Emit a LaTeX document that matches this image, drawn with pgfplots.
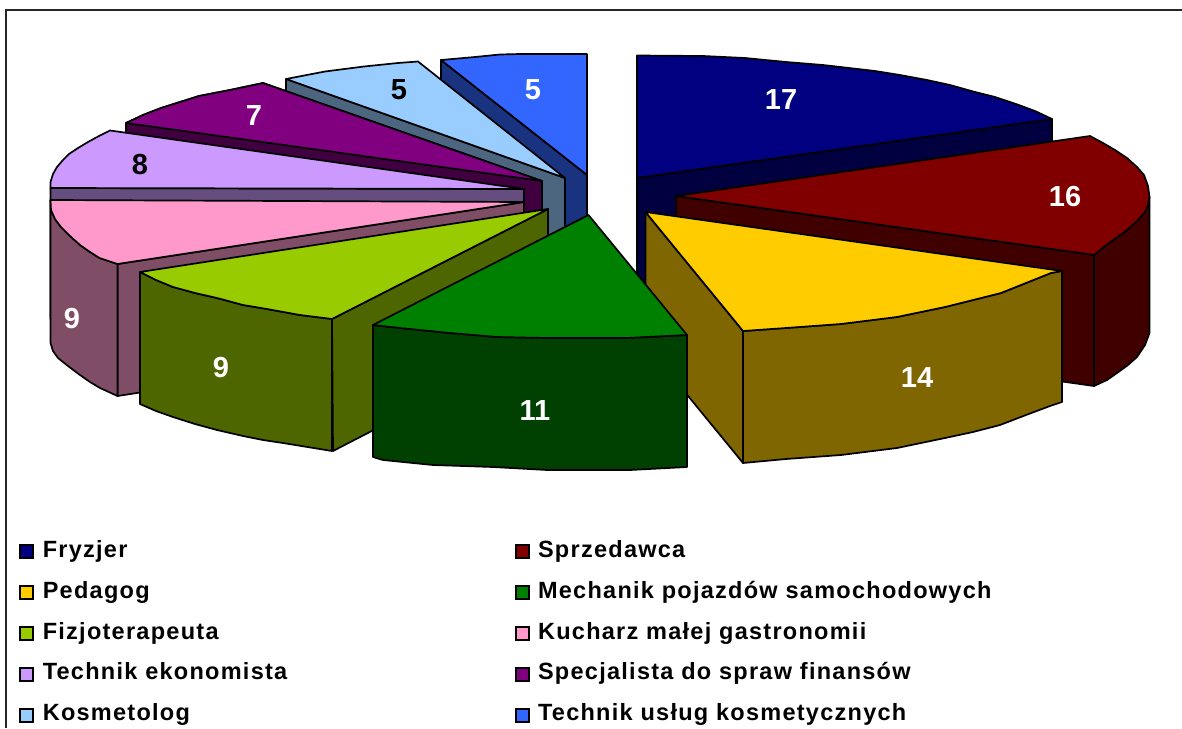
\documentclass[border=0pt]{standalone}
\usepackage{fontspec}
\setmainfont{Liberation Sans}
\newfontfamily\legfont[LetterSpace=5.4]{Liberation Sans}
\usepackage{pgfplots}
\pgfplotsset{compat=1.18}
\definecolor{c1}{HTML}{000080}\definecolor{d1}{HTML}{000040}
\definecolor{c2}{HTML}{800000}\definecolor{d2}{HTML}{400000}
\definecolor{c3}{HTML}{FFCC00}\definecolor{d3}{HTML}{806600}
\definecolor{c4}{HTML}{008000}\definecolor{d4}{HTML}{004000}
\definecolor{c5}{HTML}{99CC00}\definecolor{d5}{HTML}{4D6600}
\definecolor{c6}{HTML}{FF99CC}\definecolor{d6}{HTML}{804D66}
\definecolor{c7}{HTML}{CC99FF}\definecolor{d7}{HTML}{664D80}
\definecolor{c8}{HTML}{800080}\definecolor{d8}{HTML}{400040}
\definecolor{c9}{HTML}{99CCFF}\definecolor{d9}{HTML}{4D6680}
\definecolor{c10}{HTML}{3366FF}\definecolor{d10}{HTML}{1A3380}
\pgfplotsset{
  face/.style={fill=#1,draw=black,line width=1.7pt,line join=round,forget plot},
  sq/.style={legend image code/.code={\draw[fill=#1,draw=black,line width=1.8pt] (0pt,-6.5pt) rectangle (13pt,6.5pt);}},
}
\begin{document}
\begin{tikzpicture}
\useasboundingbox (0,0) rectangle (1182pt,728pt);
\begin{axis}[
  at={(0,0)},anchor=south west,
  scale only axis,width=1182pt,height=728pt,
  xmin=0,xmax=1182,ymin=0,ymax=728,y dir=reverse,
  hide axis,clip=false,
  legend columns=2,
  legend cell align=left,
  legend style={
    draw=none,fill=none,inner sep=0pt,outer sep=0pt,
    at={(0.01607,0.2566)},anchor=north west,
    row sep=19.9pt,
    font=\legfont\bfseries\fontsize{23.5}{26}\selectfont,
    nodes={text height=16pt,text depth=5pt,inner sep=0pt,outer sep=0pt},
    /tikz/column 1/.style={column sep=9pt},
    /tikz/column 2/.style={column sep=228pt},
    /tikz/column 3/.style={column sep=8pt},
  },
]
% frame
\addplot[color=black!85,line width=2pt,forget plot] coordinates {(6,728) (6,10) (1182,10)};

% Fryzjer 17
\addplot[face=d1] coordinates {(637,178) (1052,119) (1052,230) (637,290)} -- cycle;
\addplot[face=c1] coordinates {(637,55.5) (703,56) (745,58) (786,62) (823,65) (875,71) (900,75) (927,80) (950,85) (975,92) (995,97) (1016,104) (1035,111) (1052,119) (637,178)} -- cycle;

% Technik uslug kosmetycznych 5
\addplot[face=d10] coordinates {(441,60) (587,175) (587,306) (441,190)} -- cycle;
\addplot[face=c10] coordinates {(441,60) (475,57) (500,54.5) (520,54) (587,54) (587,175)} -- cycle;

% Kosmetolog 5
\addplot[face=d9] coordinates {(286,79) (565,178) (565,309) (286,210)} -- cycle;
\addplot[face=c9] coordinates {(286,79) (325,71.5) (364,66.5) (398,63) (418,61.5) (565,178)} -- cycle;

% Specjalista 7
\addplot[face=d8] coordinates {(126,123) (143,115) (161,108) (180,102) (199,96) (230,90) (263,83) (542,181) (542,312) (126,254)} -- cycle;
\addplot[face=c8] coordinates {(126,123) (143,115) (161,108) (180,102) (199,96) (230,90) (263,83) (542,181)} -- cycle;

% Technik ekonomista 8
\addplot[face=d7] coordinates {(50.5,188) (524,189) (524,320) (50.5,319)} -- cycle;
\addplot[face=c7] coordinates {(50.5,188) (50.5,182) (53,174) (57,167) (63,160) (69,154) (78,148) (88,142) (99,136) (110,130.5) (524,189)} -- cycle;

% Kucharz 9
\addplot[face=d6] coordinates {(117.5,264) (524,202) (524,333) (117.5,396)} -- cycle;
\addplot[face=d6] coordinates {(50.5,200) (51,210) (55,219) (61,227) (70,236) (80,245) (90,252) (99.5,258) (117.5,264) (117.5,396) (100,388) (90,382) (80,375) (68,366) (58,358) (53,351) (50.5,343)} -- cycle;
\addplot[face=c6] coordinates {(50.5,200) (524,202) (117.5,264) (99.5,258) (90,252) (80,245) (70,236) (61,227) (55,219) (51,210)} -- cycle;

% Fizjoterapeuta 9
\addplot[face=d5] coordinates {(332,319) (548,209) (548,340) (333,451)} -- cycle;
\addplot[face=d5] coordinates {(140,272) (156,280) (173,287) (195,293) (217,298) (243,305) (267,309) (300,315) (332,319) (332,451) (283,443) (263,440) (243,436) (217,430) (195,424) (173,417) (156,411) (140,404)} -- cycle;
\addplot[face=c5] coordinates {(140,272) (548,209) (332,319) (300,315) (267,309) (243,305) (217,298) (195,293) (173,287) (156,280)} -- cycle;

% Sprzedawca 16
\addplot[face=d2] coordinates {(676,196) (1094,255) (1094,386) (676,327)} -- cycle;
\addplot[face=d2] coordinates {(1094,255) (1105,246) (1116,238) (1127,230) (1137,221) (1145,212) (1148,205) (1149.5,197) (1149.5,333) (1145,345) (1137,357) (1128,365) (1117,373) (1107,380) (1094,386)} -- cycle;
\addplot[face=c2] coordinates {(676,196) (1090,136) (1103,143) (1115,150) (1127,158) (1137,167) (1144,175) (1148,186) (1149.5,197) (1148,205) (1145,212) (1137,221) (1127,230) (1116,238) (1105,246) (1094,255)} -- cycle;

% Pedagog 14
\addplot[face=d3] coordinates {(645.5,212) (743,331) (743,463) (645.5,344)} -- cycle;
\addplot[face=d3] coordinates {(743,331) (786,328) (841,324) (897,317) (945,307) (973,300) (1001,293) (1026,283) (1051,273) (1062,271) (1062,402) (1050,406) (1026,415) (1000,425) (973,432) (945,438) (897,448) (841,455) (786,459) (743,463)} -- cycle;
\addplot[face=c3] coordinates {(645.5,212) (1062,271) (1051,273) (1026,283) (1001,293) (973,300) (945,307) (897,317) (841,324) (786,328) (743,331)} -- cycle;

% Mechanik 11
\addplot[face=d4] coordinates {(373,325) (400,328) (450,333) (497,337) (547,338) (627,338) (687,335) (687,467) (630,470) (547,470) (493,467) (433,465) (383,460) (373,457)} -- cycle;
\addplot[face=c4] coordinates {(588.5,215) (687,335) (627,338) (547,338) (497,337) (450,333) (400,328) (373,325)} -- cycle;

% value labels
\node[white,font=\bfseries\fontsize{29}{30}\selectfont] at (axis cs:781,100) {17};
\node[white,font=\bfseries\fontsize{29}{30}\selectfont] at (axis cs:1065,197) {16};
\node[white,font=\bfseries\fontsize{29}{30}\selectfont] at (axis cs:917,378) {14};
\node[white,font=\bfseries\fontsize{29}{30}\selectfont] at (axis cs:535,411) {11};
\node[white,font=\bfseries\fontsize{29}{30}\selectfont] at (axis cs:221,368) {9};
\node[white,font=\bfseries\fontsize{29}{30}\selectfont] at (axis cs:72,319) {9};
\node[black,font=\bfseries\fontsize{29}{30}\selectfont] at (axis cs:140,165) {8};
\node[white,font=\bfseries\fontsize{29}{30}\selectfont] at (axis cs:254,116) {7};
\node[black,font=\bfseries\fontsize{29}{30}\selectfont] at (axis cs:399,90) {5};
\node[white,font=\bfseries\fontsize{29}{30}\selectfont] at (axis cs:533,90) {5};

% legend
\addlegendimage{sq=c1}\addlegendentry{Fryzjer}
\addlegendimage{sq=c2}\addlegendentry{Sprzedawca}
\addlegendimage{sq=c3}\addlegendentry{Pedagog}
\addlegendimage{sq=c4}\addlegendentry{Mechanik pojazdów samochodowych}
\addlegendimage{sq=c5}\addlegendentry{Fizjoterapeuta}
\addlegendimage{sq=c6}\addlegendentry{Kucharz małej gastronomii}
\addlegendimage{sq=c7}\addlegendentry{Technik ekonomista}
\addlegendimage{sq=c8}\addlegendentry{Specjalista do spraw finansów}
\addlegendimage{sq=c9}\addlegendentry{Kosmetolog}
\addlegendimage{sq=c10}\addlegendentry{Technik usług kosmetycznych}
\end{axis}
\end{tikzpicture}
\end{document}
